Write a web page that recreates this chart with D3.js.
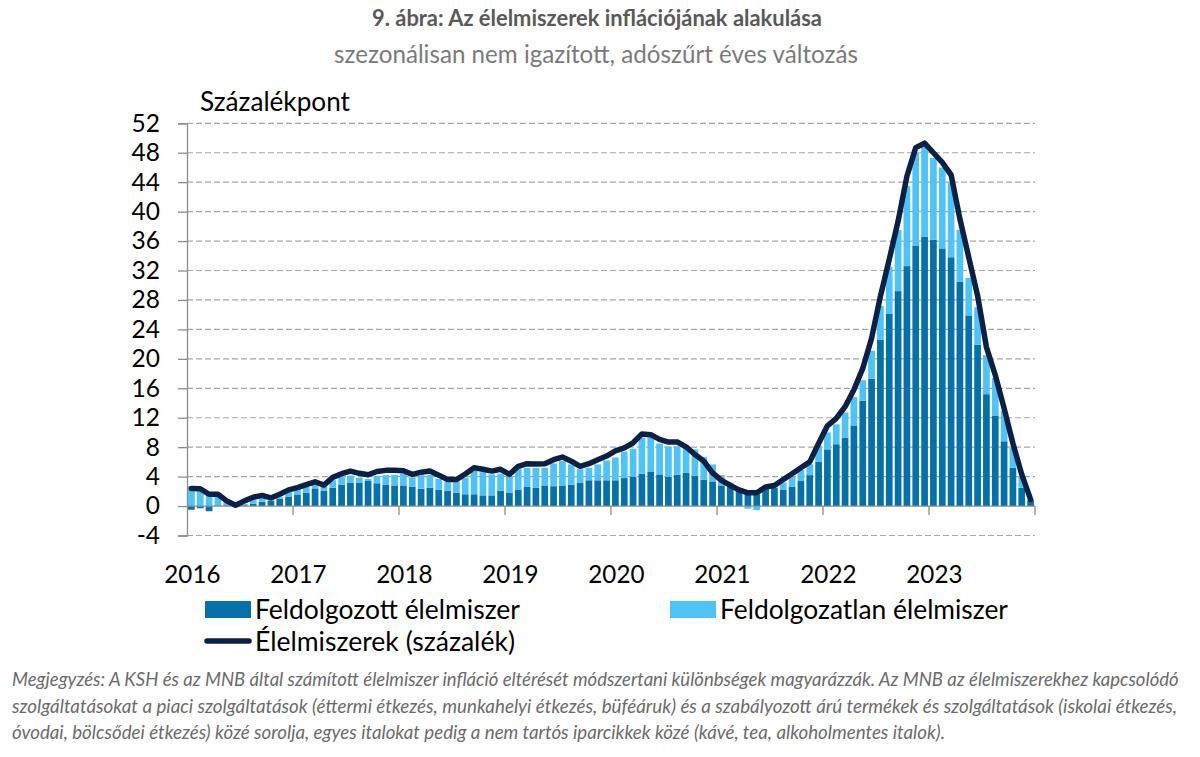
<!DOCTYPE html>
<html>
<head>
<meta charset="utf-8">
<script src="https://cdn.jsdelivr.net/npm/d3@7"></script>
<style>
  html, body { margin: 0; padding: 0; background: #ffffff; }
  svg { display: block; font-family: Lato, "Open Sans", sans-serif; }
</style>
</head>
<body>
<svg id="chart" width="1200" height="757"></svg>
<script>
// ---- data (monthly, Jan 2016 – Dec 2023) ----
const years = [2016, 2017, 2018, 2019, 2020, 2021, 2022, 2023];
const yearLabels = ["2016", "2017", "2018", "2019", "2020", "2021", "2022", "2023"];
const yTicks = [-4, 0, 4, 8, 12, 16, 20, 24, 28, 32, 36, 40, 44, 48, 52];

// Feldolgozott élelmiszer (processed food), percentage points
const processed = [
  -0.5, -0.3, -0.7, 0.1, 0.1, -0.1, 0.1, 0.3, 0.6, 0.7, 1.0, 1.3,
  1.5, 1.8, 2.4, 2.1, 2.5, 2.9, 3.2, 3.2, 3.4, 3.1, 2.9, 2.8,
  2.8, 2.6, 2.35, 2.5, 2.2, 2.1, 1.8, 1.6, 1.6, 1.45, 1.45, 2.1,
  1.8, 2.25, 2.6, 2.5, 2.8, 2.7, 2.8, 2.9, 3.2, 3.5, 3.5, 3.5,
  3.5, 3.8, 4.0, 4.4, 4.7, 4.3, 4.0, 4.25, 4.5, 4.1, 3.6, 3.35,
  2.8, 2.6, 2.35, 1.7, 1.6, 2.35, 2.5, 2.25, 2.6, 3.4, 4.2, 6.0,
  7.7, 8.4, 9.3, 10.95, 14.3, 17.3, 22.6, 26.1, 29.2, 32.6, 35.4, 36.6,
  36.2, 35.0, 33.8, 30.5, 25.9, 21.9, 15.2, 12.3, 8.8, 5.2, 2.5, 0.8
];

// Feldolgozatlan élelmiszer (unprocessed food), percentage points
const unprocessed = [
  2.7, 2.5, 1.8, 1.6, 0.6, 0.1, 0.2, 0.5, 0.5, 0.1, 0.2, 0.6,
  0.85, 0.8, 0.8, 0.5, 1.0, 1.15, 0.95, 0.65, 0.3, 1.0, 1.3, 1.45,
  1.6, 1.3, 1.85, 1.7, 1.5, 1.2, 1.5, 2.25, 3.2, 3.15, 2.85, 2.3,
  2.2, 2.85, 2.6, 2.7, 2.4, 3.1, 3.3, 2.75, 1.8, 1.7, 2.15, 2.7,
  3.1, 3.6, 3.8, 4.9, 4.7, 4.2, 4.1, 3.85, 3.6, 3.6, 3.1, 2.3,
  1.4, 0.6, 0.1, -0.35, -0.55, 0.15, 0.1, 0.95, 1.4, 1.5, 1.5, 2.2,
  2.3, 2.7, 3.4, 3.85, 2.8, 3.8, 4.6, 6.4, 8.3, 10.9, 12.6, 12.2,
  11.1, 11.0, 10.2, 7.0, 5.1, 5.1, 5.3, 5.1, 4.1, 2.7, 1.5, 0.1
];

// Élelmiszerek (százalék) – total food inflation, percent
const total = [
  2.4, 2.35, 1.6, 1.6, 0.7, 0.1, 0.7, 1.2, 1.45, 1.1, 1.6, 2.2,
  2.5, 2.9, 3.3, 2.85, 3.9, 4.4, 4.75, 4.45, 4.25, 4.7, 4.85, 4.85,
  4.8, 4.3, 4.6, 4.75, 4.2, 3.6, 3.6, 4.35, 5.2, 5.0, 4.75, 5.0,
  4.3, 5.4, 5.75, 5.7, 5.75, 6.3, 6.65, 6.1, 5.4, 5.75, 6.3, 6.8,
  7.5, 7.9, 8.6, 9.8, 9.7, 9.05, 8.7, 8.7, 8.05, 7.0, 6.1, 4.5,
  3.5, 2.8, 2.2, 1.8, 1.8, 2.6, 2.8, 3.6, 4.4, 5.2, 6.0, 8.5,
  10.9, 11.9, 13.5, 15.8, 18.7, 22.8, 28.5, 33.5, 38.7, 44.8, 48.7, 49.3,
  48.0, 46.7, 45.0, 39.0, 33.8, 28.6, 21.6, 17.8, 13.3, 8.5, 4.3, 0.9
];

const seriesNames = ["Feldolgozott élelmiszer", "Feldolgozatlan élelmiszer", "Élelmiszerek (százalék)"];
const titleText = "9. ábra: Az élelmiszerek inflációjának alakulása";
const subtitleText = "szezonálisan nem igazított, adószűrt éves változás";
const yAxisTitle = "Százalékpont";
const noteLines = [
  "Megjegyzés: A KSH és az MNB által számított élelmiszer infláció eltérését módszertani különbségek magyarázzák. Az MNB az élelmiszerekhez kapcsolódó",
  "szolgáltatásokat a piaci szolgáltatások (éttermi étkezés, munkahelyi étkezés, büféáruk) és a szabályozott árú termékek és szolgáltatások (iskolai étkezés,",
  "óvodai, bölcsődei étkezés) közé sorolja, egyes italokat pedig a nem tartós iparcikkek közé (kávé, tea, alkoholmentes italok)."
];

// ---- build ----
const months = years.flatMap(yr => d3.range(1, 13).map(m => `${yr}-${String(m).padStart(2, "0")}`));
const rows = months.map((m, i) => ({ month: m, processed: processed[i], unprocessed: unprocessed[i], total: total[i] }));

const colDark = "#0571A8";
const colLight = "#4FC3F5";
const colLine = "#0C1F45";
const gridCol = "#A6A6A6";
const axisCol = "#8C8C8C";

const svg = d3.select("#chart");
const plotL = 187, plotR = 1035, plotT = 123.3, plotB = 535.5;

// scale a text's font-size so that it spans the given width
function fit(sel, width) {
  const fs = parseFloat(sel.attr("font-size"));
  const len = sel.node().getComputedTextLength();
  if (len > 0) sel.attr("font-size", (fs * width / len).toFixed(2));
  return sel;
}

const x = d3.scaleBand().domain(months).range([plotL, plotR]).paddingInner(0.24).paddingOuter(0.12);
const xc = d3.scaleBand().domain(months).range([plotL, plotR]); // category slots
const y = d3.scaleLinear().domain([-4, 52]).range([plotB, plotT]);

// titles
fit(svg.append("text").attr("x", 597).attr("y", 26).attr("text-anchor", "middle")
  .attr("font-size", 20).attr("font-weight", "bold").attr("fill", "#595959").text(titleText), 450);
fit(svg.append("text").attr("x", 596).attr("y", 63).attr("text-anchor", "middle")
  .attr("font-size", 20).attr("fill", "#7A7A7A").text(subtitleText), 524);
fit(svg.append("text").attr("x", 200).attr("y", 111).attr("font-size", 22).attr("fill", "#000").text(yAxisTitle), 150);

// gridlines
svg.append("g").selectAll("line").data(yTicks.filter(t => t !== 0)).join("line")
  .attr("x1", plotL).attr("x2", plotR)
  .attr("y1", d => y(d)).attr("y2", d => y(d))
  .attr("stroke", gridCol).attr("stroke-width", 1.2).attr("stroke-dasharray", "6,3");

// y axis
const yAxis = d3.axisLeft(y).tickValues(yTicks).tickSize(9).tickPadding(18).tickFormat(d => String(d));
const gy = svg.append("g").attr("transform", `translate(${plotL},0)`).call(yAxis);
gy.select(".domain").attr("stroke", axisCol).attr("stroke-width", 1.3);
gy.selectAll(".tick line").attr("stroke", axisCol).attr("stroke-width", 1.3);
gy.selectAll(".tick text").attr("font-size", 24.5).attr("fill", "#000").attr("font-family", "Lato, sans-serif");

// stacked bars
const stack = d3.stack().keys(["processed", "unprocessed"]).offset(d3.stackOffsetDiverging);
const stacked = stack(rows);
const colors = { processed: colDark, unprocessed: colLight };
svg.append("g").selectAll("g").data(stacked).join("g")
  .attr("fill", d => colors[d.key])
  .selectAll("rect").data(d => d).join("rect")
  .attr("x", d => x(d.data.month))
  .attr("width", x.bandwidth())
  .attr("y", d => y(Math.max(d[0], d[1])))
  .attr("height", d => Math.abs(y(d[0]) - y(d[1])));

// x axis at zero
const yearTicks = months.filter((m, i) => i % 12 === 0);
svg.append("line").attr("x1", plotL).attr("x2", plotR).attr("y1", y(0)).attr("y2", y(0))
  .attr("stroke", axisCol).attr("stroke-width", 1.3);
svg.append("g").selectAll("line").data(d3.range(1, years.length + 1)).join("line")
  .attr("x1", d => xc(months[d * 12 - 1]) + xc.bandwidth())
  .attr("x2", d => xc(months[d * 12 - 1]) + xc.bandwidth())
  .attr("y1", y(0)).attr("y2", y(0) + 9)
  .attr("stroke", axisCol).attr("stroke-width", 1.3);
svg.append("g").selectAll("text").data(yearTicks).join("text")
  .attr("x", d => xc(d) + xc.bandwidth() / 2 + 1)
  .attr("y", 583)
  .attr("text-anchor", "middle").attr("font-size", 24.2).attr("fill", "#000")
  .text((d, i) => yearLabels[i]);

// line
const line = d3.line().x(d => xc(d.month) + xc.bandwidth() / 2).y(d => y(d.total));
svg.append("path").datum(rows).attr("d", line)
  .attr("fill", "none").attr("stroke", colLine).attr("stroke-width", 5.5)
  .attr("stroke-linejoin", "round").attr("stroke-linecap", "round");

// legend
const lg = svg.append("g");
lg.append("rect").attr("x", 205).attr("y", 601).attr("width", 46).attr("height", 17).attr("fill", colDark);
fit(lg.append("text").attr("x", 255).attr("y", 619).attr("font-size", 24).attr("fill", "#000").text(seriesNames[0]), 265);
lg.append("rect").attr("x", 670).attr("y", 601).attr("width", 46).attr("height", 17).attr("fill", colLight);
fit(lg.append("text").attr("x", 720).attr("y", 619).attr("font-size", 24).attr("fill", "#000").text(seriesNames[1]), 288);
lg.append("line").attr("x1", 207).attr("x2", 249).attr("y1", 641).attr("y2", 641)
  .attr("stroke", colLine).attr("stroke-width", 5.5).attr("stroke-linecap", "round");
fit(lg.append("text").attr("x", 255).attr("y", 651).attr("font-size", 24).attr("fill", "#000").text(seriesNames[2]), 260);

// note
const noteWidths = [1168, 1166, 934];
svg.append("g").selectAll("text").data(noteLines).join("text")
  .attr("x", 12).attr("y", (d, i) => 686 + i * 26.5)
  .attr("font-size", 16).attr("font-style", "italic").attr("fill", "#6B6B6B")
  .text(d => d)
  .each(function (d, i) { fit(d3.select(this), noteWidths[i]); });
</script>
</body>
</html>
